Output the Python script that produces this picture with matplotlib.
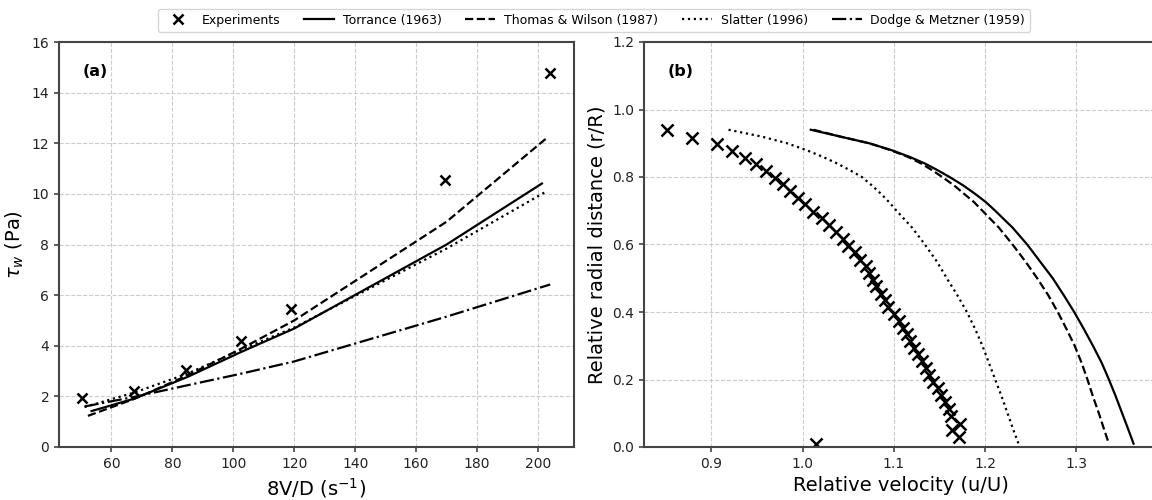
import matplotlib
matplotlib.use('Agg')
import matplotlib.pyplot as plt

# Panel (a): wall shear stress vs 8V/D
exp_a_x = [50.5, 67.4, 84.6, 102.7, 119.0, 169.5, 204.1]
exp_a_y = [1.95, 2.21, 3.03, 4.19, 5.45, 10.53, 14.77]

torr_a_x = [53.5, 67.5, 85.0, 102.5, 120.0, 170.0, 201.3]
torr_a_y = [1.42, 1.91, 2.77, 3.75, 4.68, 8.00, 10.41]
tw_a_x = [52.3, 67.5, 85.0, 102.7, 120.0, 170.0, 202.6]
tw_a_y = [1.23, 1.90, 2.83, 3.89, 5.00, 8.90, 12.18]
sl_a_x = [51.2, 67.5, 85.0, 102.7, 120.0, 170.0, 203.1]
sl_a_y = [1.58, 2.15, 2.90, 3.85, 4.72, 7.84, 10.12]
dm_a_x = [51.2, 67.5, 85.0, 102.7, 120.0, 170.0, 204.0]
dm_a_y = [1.60, 1.98, 2.44, 2.90, 3.38, 5.15, 6.42]

# Panel (b): velocity profile
exp_b_u = [0.852, 0.879, 0.906, 0.923, 0.937, 0.949, 0.960, 0.970, 0.979, 0.986,
           0.995, 1.003, 1.012, 1.021, 1.029, 1.037, 1.044, 1.050, 1.057, 1.063,
           1.069, 1.073, 1.077, 1.081, 1.086, 1.090, 1.094, 1.100, 1.106, 1.110,
           1.114, 1.118, 1.122, 1.127, 1.131, 1.135, 1.139, 1.143, 1.148, 1.152,
           1.156, 1.160, 1.163, 1.173, 1.164, 1.171, 1.015]
exp_b_r = [0.938, 0.917, 0.897, 0.877, 0.857, 0.838, 0.818, 0.798, 0.778, 0.759,
           0.739, 0.719, 0.697, 0.678, 0.658, 0.636, 0.616, 0.597, 0.577, 0.555,
           0.535, 0.516, 0.496, 0.476, 0.454, 0.435, 0.415, 0.393, 0.373, 0.354,
           0.334, 0.314, 0.294, 0.275, 0.255, 0.235, 0.213, 0.194, 0.174, 0.154,
           0.134, 0.114, 0.091, 0.069, 0.049, 0.030, 0.010]

model_b_r = [0.94, 0.92, 0.90, 0.88, 0.86, 0.84, 0.82, 0.80, 0.775, 0.75, 0.725,
             0.70, 0.65, 0.60, 0.55, 0.50, 0.45, 0.40, 0.35, 0.30, 0.25, 0.20,
             0.15, 0.10, 0.05, 0.01]
torr_b_u = [1.009, 1.041, 1.073, 1.097, 1.117, 1.134, 1.148, 1.161, 1.176, 1.189,
            1.201, 1.211, 1.230, 1.246, 1.260, 1.274, 1.286, 1.2975, 1.308, 1.318,
            1.3275, 1.3355, 1.343, 1.350, 1.357, 1.3625]
tw_b_u = [1.012, 1.041, 1.073, 1.096, 1.115, 1.130, 1.142, 1.153, 1.166, 1.177,
          1.188, 1.197, 1.215, 1.230, 1.244, 1.257, 1.269, 1.2795, 1.289, 1.298,
          1.3055, 1.312, 1.318, 1.3245, 1.3305, 1.3355]
sl_b_u = [0.919, 0.955, 0.983, 1.004, 1.022, 1.038, 1.052, 1.065, 1.076, 1.086,
          1.095, 1.103, 1.120, 1.134, 1.147, 1.158, 1.1695, 1.180, 1.189, 1.197,
          1.204, 1.211, 1.218, 1.2245, 1.231, 1.2365]

spine_col = '#444444'
lw = 1.6

fig = plt.figure(figsize=(11.52, 5.0), dpi=100)
ax1 = fig.add_axes([0.0512, 0.106, 0.447, 0.81])
ax2 = fig.add_axes([0.559, 0.106, 0.446, 0.81])

# (a)
ax1.plot(exp_a_x, exp_a_y, 'x', color='black', ms=7, mew=1.8, label='Experiments')
ax1.plot(torr_a_x, torr_a_y, '-', color='black', lw=lw, label='Torrance (1963)')
ax1.plot(tw_a_x, tw_a_y, '--', color='black', lw=lw, label='Thomas & Wilson (1987)')
ax1.plot(sl_a_x, sl_a_y, ':', color='black', lw=lw, label='Slatter (1996)')
ax1.plot(dm_a_x, dm_a_y, '-.', color='black', lw=lw, label='Dodge & Metzner (1959)')
ax1.set_xlim(42.8, 211.8)
ax1.set_ylim(0, 16)
ax1.set_xlabel('8V/D (s$^{-1}$)', fontsize=14)
ax1.set_ylabel(r'$\tau_w$ (Pa)', fontsize=14)
ax1.text(0.045, 0.928, '(a)', transform=ax1.transAxes, fontsize=11.5,
         fontweight='bold', va='center')

# (b)
ax2.plot(exp_b_u, exp_b_r, 'x', color='black', ms=8, mew=1.8)
ax2.plot(torr_b_u, model_b_r, '-', color='black', lw=lw)
ax2.plot(tw_b_u, model_b_r, '--', color='black', lw=lw)
ax2.plot(sl_b_u, model_b_r, ':', color='black', lw=lw)
ax2.set_xlim(0.8264, 1.389)
ax2.set_ylim(0, 1.2)
ax2.set_xticks([0.9, 1.0, 1.1, 1.2, 1.3])
ax2.set_xlabel('Relative velocity (u/U)', fontsize=14)
ax2.set_ylabel('Relative radial distance (r/R)', fontsize=14)
ax2.text(0.047, 0.928, '(b)', transform=ax2.transAxes, fontsize=11.5,
         fontweight='bold', va='center')

for ax in (ax1, ax2):
    ax.grid(True, linestyle='--', color='#cccccc', linewidth=0.8)
    ax.set_axisbelow(True)
    for s in ax.spines.values():
        s.set_color(spine_col)
        s.set_linewidth(1.5)
    ax.tick_params(colors='#222222', labelsize=10, width=1.2, color=spine_col)

fig.legend(loc='upper center', bbox_to_anchor=(0.5156, 0.995), ncol=5, fontsize=9,
           frameon=True, handlelength=2.4, handletextpad=0.7, columnspacing=1.9)

fig.savefig('out.png', dpi=100)
